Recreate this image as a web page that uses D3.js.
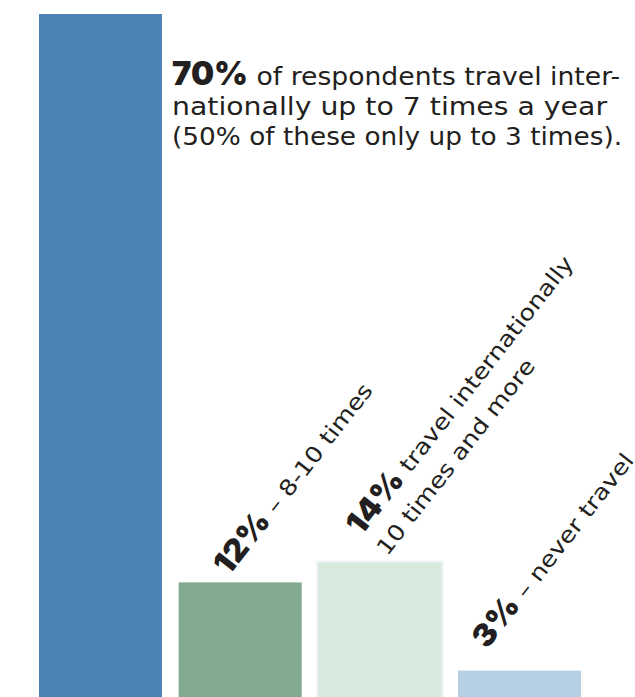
<!DOCTYPE html>
<html>
<head>
<meta charset="utf-8">
<script src="https://cdn.jsdelivr.net/npm/d3@7"></script>
<style>
  html, body { margin: 0; padding: 0; background: #ffffff; }
  svg { display: block; }
  text { fill: #231f20; }
  .pct { font-family: "Inter", "DejaVu Sans", sans-serif; font-weight: 900; }
  .txt { font-family: "DejaVu Sans", sans-serif; font-weight: 400; }
</style>
</head>
<body>
<svg id="chart" width="635" height="697"></svg>
<script>
// How often respondents travel abroad, share of respondents (%)
const categories = ["up to 7 times", "8-10 times", "10 times and more", "never travel"];
const values = [70, 12, 14, 3];
const colors = ["#4d83b6", "#82aa8f", "#d6ebdd", "#b5d0e5"];

// Text lines that follow each percentage figure
const captionLines = [
  [" of respondents travel inter-", "nationally up to 7 times a year", "(50% of these only up to 3 times)."],
  [" \u2013 8-10 times"],
  [" travel internationally", "10 times and more"],
  [" \u2013 never travel"]
];

const W = 635, H = 697;
const svg = d3.select("#chart");

// widen a tspan/text horizontally by a factor (wide geometric lettering)
function stretch(sel, factor) {
  sel.each(function () {
    const w = this.getComputedTextLength();
    d3.select(this).attr("textLength", w * factor).attr("lengthAdjust", "spacingAndGlyphs");
  });
}
// set a line to an exact set width
function fitTo(sel, width) {
  sel.attr("textLength", width).attr("lengthAdjust", "spacingAndGlyphs");
}
const TXT_WIDEN = 1.16, PCT_WIDEN = 1.05;

const x = d3.scaleBand()
  .domain(categories)
  .range([39, 581])
  .paddingInner(0.119)
  .paddingOuter(0);

const y = d3.scaleLinear()
  .domain([0, 70])
  .range([700, 14]);

// Bars (baseline sits just below the bottom edge)
const bars = svg.append("g");
bars.selectAll("rect.edge")
  .data(categories.filter((c, i) => i === 2))
  .join("rect")
  .attr("class", "edge")
  .attr("x", c => x(c) - 2)
  .attr("y", c => y(values[2]) - 2)
  .attr("width", x.bandwidth() + 4)
  .attr("height", c => y(0) - y(values[2]) + 2)
  .attr("fill", "#edf0f2");

bars.selectAll("rect.bar")
  .data(categories)
  .join("rect")
  .attr("class", "bar")
  .attr("x", c => x(c))
  .attr("y", (c, i) => y(values[i]))
  .attr("width", x.bandwidth())
  .attr("height", (c, i) => y(0) - y(values[i]))
  .attr("fill", (c, i) => colors[i]);

// Headline next to the tallest bar, set to a ragged-right measure
const headX = x(categories[0]) + x.bandwidth() + 10;
const headWidths = [372, 435, 450];
const head = svg.append("text").attr("x", headX).attr("y", 85);
fitTo(head.append("tspan").attr("class", "pct").attr("font-size", 33).text(values[0] + "%"), 76);
fitTo(head.append("tspan").attr("class", "txt").attr("font-size", 24).text(captionLines[0][0]), headWidths[0]);
captionLines[0].slice(1).forEach((line, k) => {
  const t = svg.append("text")
    .attr("class", "txt")
    .attr("font-size", 24)
    .attr("x", headX)
    .attr("y", 85 + 30 * (k + 1))
    .text(line);
  fitTo(t, headWidths[k + 1]);
});

// Slanted labels above the shorter bars
const angle = -52;
const labelLayout = [null, { dx: 50, gap: 6 }, { dx: 69, gap: 6 }, { dx: 29, gap: 1 }];
const lineGap = 33;
const floorY = y(5);

[1, 2, 3].forEach(i => {
  const cat = categories[i];
  const lay = labelLayout[i];
  const ax = x(cat) + lay.dx;
  const ay = Math.min(y(values[i]), floorY) - lay.gap;
  const g = svg.append("g").attr("transform", `translate(${ax},${ay}) rotate(${angle})`);
  const lines = captionLines[i];
  const n = lines.length;
  lines.forEach((line, k) => {
    const t = g.append("text").attr("x", 0).attr("y", -(n - 1 - k) * lineGap);
    if (k === 0) {
      stretch(t.append("tspan").attr("class", "pct").attr("font-size", 31).text(values[i] + "%"), PCT_WIDEN);
    }
    stretch(t.append("tspan").attr("class", "txt").attr("font-size", 22).text(line), TXT_WIDEN);
  });
});
</script>
</body>
</html>
